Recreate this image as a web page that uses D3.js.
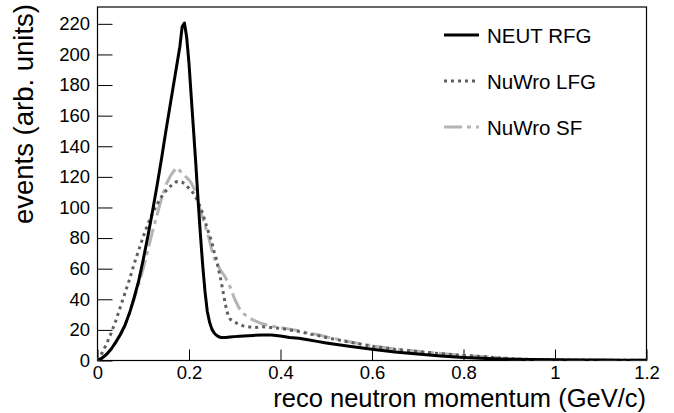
<!DOCTYPE html>
<html><head><meta charset="utf-8">
<script src="https://cdn.jsdelivr.net/npm/d3@7"></script>
<style>body{margin:0;background:#fff}svg{display:block}</style></head>
<body><svg id="c" width="674" height="413"></svg>
<script>
const momentum = [0,0.01,0.02,0.03,0.04,0.05,0.06,0.07,0.08,0.09,0.10,0.11,0.12,0.13,0.14,0.15,0.16,
 0.165,0.17,0.175,0.18,0.185,0.19,0.195,0.20,0.205,0.21,0.215,0.22,0.225,0.23,0.235,0.24,0.245,0.25,0.255,0.26,0.265,0.27,0.275,0.28,0.285,0.29,0.295,0.30,
 0.31,0.32,0.33,0.34,0.36,0.38,
 0.40,0.42,0.44,0.46,0.48,0.50,
 0.55,0.60,0.65,0.70,0.75,0.80,0.85,0.90,0.95,1.00,1.05,1.10,1.15,1.20];
const neutRFG = [0,1.5,4,7.5,12,17,23,31,41,52,66,81,97,114,132,151,169,
 178,187,196,205,218,220.5,211,194,172,150,128,104,82,62,45,32,25,20.5,18,16.5,15.5,15,15,15,15.2,15.4,15.5,15.6,
 15.8,16,16.2,16.4,16.6,16.6,
 16,15,14.5,13.5,12.5,11.5,
 9.3,7.3,5.6,4.2,3,2,1.3,0.8,0.6,0.45,0.35,0.25,0.2,0.15];
const nuwroLFG = [0,5,11,18,26,35,44,53,63,72,81,89,96,102,107,111,114,
 115.5,116.5,117,117,116.5,115.5,114,112.5,111,109,106.5,103.5,100,96,91,86,82,77,71,66,59,52,44,36,30,27,26,25,
 23.5,22.5,22,21.5,22,21.5,
 21,20,19,17.5,16.5,15,
 12,9.3,7.3,5.8,4.4,3.3,2.4,1.2,0.6,0.4,0.3,0.2,0.15,0.1];
const nuwroSF = [0,2,4.5,7.5,12,17,23,31,40,50,60,72,84,95,106,115,121,
 123,125,126,124,122.5,121,119.5,118,116,113,110,104,98,93,88,84,78,72,67,63.5,61,58.5,56.5,54,51,48,44,40,
 34,30.5,28,26.5,24,22.5,
 21.5,20.5,19.5,18,17,15.5,
 12.3,9.6,7.5,6,4.6,3.4,2.5,1.2,0.6,0.4,0.3,0.2,0.15,0.1];
const xTickValues = [0,0.2,0.4,0.6,0.8,1.0,1.2];
const xTickLabels = ["0","0.2","0.4","0.6","0.8","1","1.2"];
const yTickValues = [0,20,40,60,80,100,120,140,160,180,200,220];
const seriesNames = ["NEUT RFG","NuWro LFG","NuWro SF"];
const seriesColors = ["#000000","#5f5f5f","#b4b4b4"];
const seriesDash = [null,"3,4","18,5,4,5"];

const FONT = "'Liberation Sans', Arial, Helvetica, sans-serif";
const svg = d3.select("#c");
const L = 97.5, R = 646.5, T = 7, B = 360.5;
const x = d3.scaleLinear().domain([0,1.2]).range([L,R]);
const y = d3.scaleLinear().domain([0,231]).range([B,T]);

const xMinor = d3.range(0,1.2001,0.05).filter(v => Math.abs(v/0.2 - Math.round(v/0.2)) > 1e-6);
const yMinor = d3.range(0,231,5).filter(v => v % 20 !== 0);

const gx = svg.append("g").attr("transform",`translate(0,${B})`);
gx.call(d3.axisBottom(x).tickValues(xMinor).tickSize(-6).tickFormat("").tickSizeOuter(0));
gx.call(d3.axisBottom(x).tickValues(xTickValues).tickSize(-11).tickPadding(5.5)
  .tickFormat((d,i)=>xTickLabels[i]).tickSizeOuter(0));
gx.selectAll(".domain").remove();

const gy = svg.append("g").attr("transform",`translate(${L},0)`);
gy.call(d3.axisLeft(y).tickValues(yMinor).tickSize(-8).tickFormat("").tickSizeOuter(0));
gy.call(d3.axisLeft(y).tickValues(yTickValues).tickSize(-15).tickPadding(7.5).tickSizeOuter(0));
gy.selectAll(".domain").remove();

svg.selectAll(".tick line").attr("stroke","#000").attr("stroke-width",1);
svg.selectAll(".tick text").attr("font-family",FONT).attr("font-size",18.5).attr("fill","#000");

svg.append("rect").attr("x",L).attr("y",T).attr("width",R-L).attr("height",B-T)
  .attr("fill","none").attr("stroke","#000").attr("stroke-width",1.2);

const line = d3.line().x((d,i)=>x(momentum[i])).y(d=>y(d));
const seriesData = [neutRFG, nuwroLFG, nuwroSF];
svg.append("clipPath").attr("id","clp").append("rect")
  .attr("x",L).attr("y",T).attr("width",R-L).attr("height",B-T);
const gl = svg.append("g").attr("clip-path","url(#clp)");
[2,1,0].forEach(k=>{
  gl.append("path").attr("d",line(seriesData[k])).attr("fill","none")
    .attr("stroke",seriesColors[k]).attr("stroke-width",3)
    .attr("stroke-dasharray",seriesDash[k]).attr("stroke-linejoin","round");
});

const legY = [35,81,127];
seriesNames.forEach((n,k)=>{
  svg.append("line").attr("x1",444).attr("x2",479).attr("y1",legY[k]).attr("y2",legY[k])
    .attr("stroke",seriesColors[k]).attr("stroke-width",3).attr("stroke-dasharray",seriesDash[k]);
  svg.append("text").attr("x",487).attr("y",legY[k]+7.5).text(n)
    .attr("font-family",FONT).attr("font-size",20.5).attr("fill","#000");
});

svg.append("text").attr("x",646).attr("y",407).attr("text-anchor","end")
  .attr("font-family",FONT).attr("font-size",25.5).attr("fill","#000")
  .text("reco neutron momentum (GeV/c)");
svg.append("text").attr("transform","translate(33,4) rotate(-90)").attr("text-anchor","end")
  .attr("font-family",FONT).attr("font-size",27.5).attr("fill","#000")
  .text("events (arb. units)");
</script></body></html>
